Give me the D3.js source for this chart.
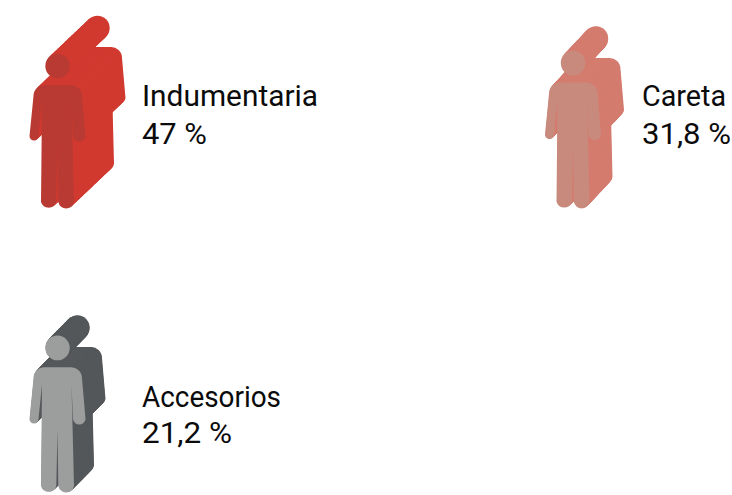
<!DOCTYPE html>
<html>
<head>
<meta charset="utf-8">
<script src="https://cdn.jsdelivr.net/npm/d3@7"></script>
<style>
  html, body { margin: 0; background: #fff; }
  text { font-family: Roboto, sans-serif; font-size: 30px; fill: #0b0b0b; }
</style>
</head>
<body>
<div id="chart"></div>
<script>
const categories = ['Indumentaria', 'Careta', 'Accesorios']
const values = [47, 31.8, 21.2]
const labels = ['47 %', '31,8 %', '21,2 %']
const shadowColors = ['#d13a30', '#d47c6f', '#54585b']
const frontColors = ['#b93a32', '#c88a7c', '#9c9d9d']

const width = 732
const height = 495

// small differences between the three figures in the original
const stretch = [1, 1.02, 1.014]
const nameWidths = [176, 84, 139]
const labelWidths = [65, 89, 90]
const textLeft = [142, 642, 142]
const nameBase = [106, 106, 407]
const labelBase = [144, 144, 443]

// figure outline, origin at the centre of the head
const body = 'M-13,19 H13 A11,11 0 0 1 24.5,30 L28,70 A6.3,6.3 0 0 1 15.5,70 L14,36 L16.5,136 A8,8 0 0 1 0.8,136 L0,81 L-1.2,136 A8,8 0 0 1 -16.5,136 L-15.5,36 L-19,70 A4.5,4.5 0 0 1 -28,70 L-24,30 A11,11 0 0 1 -13,19 Z'
const footY = 144

const svg = d3.select('#chart').append('svg')
  .attr('width', width)
  .attr('height', height)

const x = d3.scalePoint().domain([0, 1]).range([57.5, 573])
const y = d3.scalePoint().domain([0, 1]).range([210, 494])

// how far the shadow runs up and to the right
const shiftX = d3.scaleLinear().domain([21.2, 31.8, 47]).range([20, 23, 40])
const shiftY = d3.scaleLinear().domain([21.2, 31.8, 47]).range([20, 24, 38])

const drawFigure = (g, fill) => {
  g.append('circle').attr('r', 12.2).attr('fill', fill)
  g.append('path').attr('d', body).attr('fill', fill)
}

categories.forEach((name, i) => {
  const g = svg.append('g')
    .attr('transform', `translate(${x(i % 2)},${y(Math.floor(i / 2))}) scale(1,${stretch[i]}) translate(0,${-footY})`)
  const dx = shiftX(values[i])
  const dy = shiftY(values[i])

  d3.range(1, 0, -0.02).forEach((t) => {
    drawFigure(g.append('g').attr('transform', `translate(${t * dx},${-t * dy})`), shadowColors[i])
  })
  drawFigure(g.append('g'), frontColors[i])

  svg.append('text')
    .attr('x', textLeft[i])
    .attr('y', nameBase[i])
    .attr('textLength', nameWidths[i])
    .attr('lengthAdjust', 'spacingAndGlyphs')
    .text(name)
  svg.append('text')
    .attr('x', textLeft[i])
    .attr('y', labelBase[i])
    .attr('textLength', labelWidths[i])
    .attr('lengthAdjust', 'spacingAndGlyphs')
    .text(labels[i])
})
</script>
</body>
</html>
